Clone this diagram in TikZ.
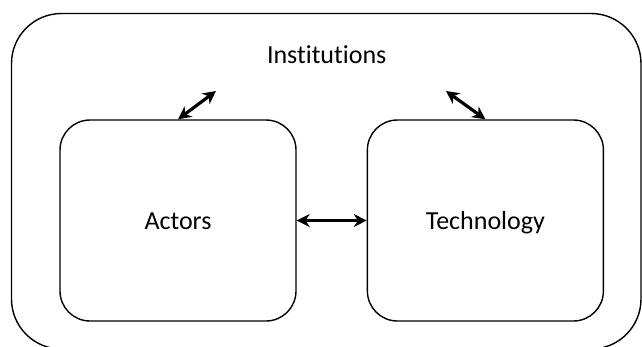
\documentclass[tikz,border=0pt]{standalone}
\usepackage{fontspec}
\setmainfont{Carlito}[Ligatures=NoCommon]
\usetikzlibrary{arrows.meta, positioning}

\begin{document}
\begin{tikzpicture}[
        x=1pt, y=-1pt,
        every node/.style={font=\fontsize{26}{30}\selectfont},
        box/.style={draw, line width=1.4pt, rounded corners=30pt, minimum width=236pt, minimum height=201pt, inner sep=0pt, text height=19pt, text depth=2pt},
        link/.style={{Stealth[length=13pt,width=13pt]}-{Stealth[length=13pt,width=13pt]}, line width=3.2pt}
    ]

    \useasboundingbox (0,0) rectangle (642,346);

    % outer frame
    \draw[line width=1.4pt, rounded corners=50pt] (11.5,13.5) rectangle (641,349);
    \node[anchor=base, inner sep=0pt] (inst) at (326.7,63.3) {Institutions};

    \node[box] (actors) at (178,220.5) {Actors};
    \node[box, right=70pt of actors] (tech) {Technology};

    \coordinate (instL) at (216,91);
    \coordinate (instR) at (446,91);

    \draw[link] (actors) -- (tech);
    \draw[link] (actors.north) -- (instL);
    \draw[link] (tech.north) -- (instR);
    \end{tikzpicture}
\end{document}
